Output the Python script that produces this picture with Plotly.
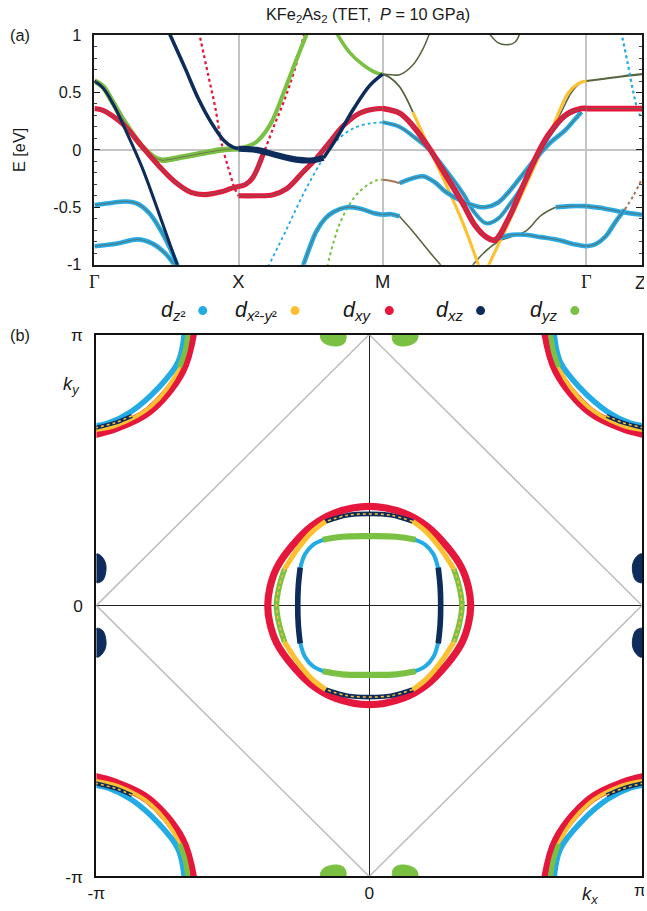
import plotly.graph_objects as go

# The page is shown at about 98 % zoom inside a 647 x 911 window, and the body keeps
# its default 8 px margin; layout positions below are given in on-screen pixels.
SCREEN_W, SCREEN_H = 647, 911
ZOOM = 0.98
BODY_MARGIN = 8
W = round(SCREEN_W / ZOOM) - 2 * BODY_MARGIN
H = round(SCREEN_H / ZOOM) - 2 * BODY_MARGIN - 1

# orbital colours
COLORS = {
    "dz2": "#22abe5",
    "dx2y2": "#fbc130",
    "dxy": "#e5173c",
    "dxz": "#0d2c5c",
    "dyz": "#7ac143",
    "mix": "#56643f",
    "brown": "#a87559",
}
CORE = "rgba(110,100,85,0.8)"   # thin total-band line running through the fat bands

# high-symmetry path
K_TICKS = [0.0, 1.0, 2.0, 3.414, 3.80]
K_LABELS = ['<span style="font-family:Liberation Serif">Γ</span>', "X", "M",
            '<span style="font-family:Liberation Serif">Γ</span>', "Z"]
E_TICKS = [-1, -0.5, 0, 0.5, 1]
E_LABELS = ["-1", "-0.5", "0", "0.5", "1"]

# ---- band energies E(k) [eV] -------------------------------------------
# Γ–X
GX_XZ_STEEP = ([0.0, 0.06, 0.13, 0.21, 0.33, 0.45, 0.58], [0.60, 0.54, 0.40, 0.19, -0.15, -0.56, -1.02])
GX_YZ = ([0.0, 0.06, 0.12, 0.21, 0.33, 0.42, 0.47, 0.60, 0.75, 0.88, 1.0],
         [0.60, 0.55, 0.43, 0.24, 0.03, -0.07, -0.09, -0.065, -0.03, 0.0, 0.01])
GX_XY = ([0.0, 0.06, 0.12, 0.21, 0.33, 0.44, 0.56, 0.67, 0.76, 0.88, 0.95, 1.0],
         [0.36, 0.345, 0.30, 0.21, 0.03, -0.13, -0.28, -0.37, -0.39, -0.365, -0.335, -0.32])
GX_XY_DOT = ([0.725, 0.79, 0.84, 0.88, 0.93, 0.975, 1.0], [1.03, 0.65, 0.36, 0.07, -0.16, -0.34, -0.40])
GX_XZ_TOP = ([0.515, 0.63, 0.72, 0.81, 0.90, 0.96, 1.0], [1.03, 0.71, 0.45, 0.24, 0.08, 0.025, 0.01])
GX_Z2_UP = ([0.0, 0.10, 0.22, 0.30, 0.38, 0.46, 0.53, 0.58], [-0.48, -0.465, -0.45, -0.47, -0.55, -0.70, -0.87, -1.02])
GX_Z2_LOW = ([0.0, 0.16, 0.30, 0.40, 0.49, 0.565], [-0.84, -0.815, -0.78, -0.815, -0.90, -1.02])
# X–M
XM_XZ_FLAT = ([1.0, 1.125, 1.26, 1.40, 1.52, 1.59], [0.01, 0.0, -0.045, -0.085, -0.09, -0.07])
XM_XZ_RISE = ([1.59, 1.68, 1.80, 1.91, 2.0], [-0.07, 0.10, 0.36, 0.56, 0.66])
XM_YZ = ([1.0, 1.06, 1.125, 1.22, 1.32, 1.40, 1.48], [0.01, 0.03, 0.07, 0.22, 0.52, 0.78, 1.03])
XM_XY_UP = ([1.0, 1.05, 1.10, 1.17, 1.25, 1.32, 1.39, 1.46], [-0.32, -0.30, -0.24, -0.04, 0.22, 0.44, 0.70, 1.03])
XM_XY_FLAT = ([1.0, 1.125, 1.24, 1.333, 1.45, 1.54, 1.634, 1.727, 1.84, 1.935, 2.0],
              [-0.40, -0.40, -0.39, -0.34, -0.19, -0.075, 0.07, 0.21, 0.32, 0.355, 0.36])
XM_Z2_A = ([1.205, 1.33, 1.46, 1.60, 1.68, 1.80, 1.91, 2.0], [-1.02, -0.70, -0.36, -0.05, 0.08, 0.19, 0.23, 0.24])
XM_Z2_B = ([1.445, 1.50, 1.54, 1.60, 1.66, 1.75, 1.84, 1.935, 2.0],
           [-1.02, -0.83, -0.71, -0.60, -0.54, -0.50, -0.51, -0.55, -0.565])
XM_YZ_LOW = ([1.615, 1.70, 1.80, 1.89, 1.96, 2.0], [-1.02, -0.65, -0.42, -0.31, -0.265, -0.26])
XM_YZ_TOP = ([1.675, 1.77, 1.866, 1.96, 2.0], [1.03, 0.85, 0.74, 0.67, 0.66])
# M–Γ
MG_MIX_UP = ([2.0, 2.06, 2.118, 2.21, 2.28, 2.33], [0.66, 0.655, 0.655, 0.74, 0.88, 1.03])
MG_MIX_DIP = ([2.73, 2.80, 2.861, 2.92, 2.956], [1.03, 0.935, 0.916, 0.94, 1.03])
MG_X2_TOP = ([2.0, 2.05, 2.118, 2.21], [0.66, 0.63, 0.55, 0.33])
MG_X2_LEFT = ([2.21, 2.326, 2.442, 2.558, 2.67], [0.33, 0.01, -0.31, -0.64, -1.02])
MG_X2_RIGHT = ([2.73, 2.85, 2.96, 3.07, 3.18, 3.29, 3.36, 3.414], [-1.02, -0.70, -0.40, -0.10, 0.20, 0.50, 0.58, 0.60])
MG_XY = ([2.0, 2.118, 2.21, 2.326, 2.442, 2.558, 2.64, 2.72, 2.78, 2.873, 2.965, 3.06, 3.15, 3.266, 3.38, 3.414],
         [0.36, 0.32, 0.21, 0.01, -0.23, -0.47, -0.655, -0.76, -0.785, -0.60, -0.34, -0.075, 0.13, 0.30, 0.36, 0.36])
MG_Z2_MID = ([2.0, 2.118, 2.21, 2.326, 2.442, 2.558, 2.64, 2.72, 2.80, 2.873, 2.988, 3.06, 3.15, 3.266, 3.38, 3.414],
             [0.24, 0.20, 0.12, 0.0, -0.18, -0.38, -0.55, -0.64, -0.60, -0.49, -0.28, -0.09, 0.11, 0.29, 0.355, 0.36])
MG_BROWN = ([2.0, 2.06, 2.118], [-0.26, -0.27, -0.29])
MG_Z2_TOP = ([2.118, 2.20, 2.28, 2.36, 2.442, 2.558, 2.65, 2.71, 2.80, 2.873, 2.988, 3.08, 3.17, 3.266, 3.33, 3.38],
             [-0.29, -0.25, -0.23, -0.28, -0.37, -0.45, -0.49, -0.50, -0.46, -0.37, -0.19, -0.05, 0.07, 0.17, 0.26, 0.33])
MG_MIX_GAMMA = ([3.06, 3.15, 3.24, 3.31, 3.37, 3.414], [-0.075, 0.13, 0.33, 0.50, 0.58, 0.60])
MG_Z2_FLAT = ([2.0, 2.06, 2.118], [-0.565, -0.56, -0.58])
MG_MIX_DOWN = ([2.118, 2.21, 2.326, 2.415], [-0.58, -0.71, -0.89, -1.02])
MG_MIX_LOW = ([2.615, 2.70, 2.80, 2.99, 3.10, 3.20], [-1.02, -0.90, -0.80, -0.71, -0.57, -0.50])
MG_Z2_GAMMA = ([3.20, 3.30, 3.414], [-0.50, -0.49, -0.49])
MG_Z2_LOW = ([2.80, 2.90, 2.99, 3.10, 3.22, 3.32, 3.414], [-0.77, -0.74, -0.74, -0.76, -0.785, -0.82, -0.84])
# Γ–Z
GZ_MIX = ([3.414, 3.54, 3.66, 3.80], [0.60, 0.62, 0.64, 0.66])
GZ_XY = ([3.414, 3.60, 3.80], [0.36, 0.36, 0.36])
GZ_Z2_DOT = ([3.655, 3.70, 3.74, 3.775, 3.80], [1.03, 0.76, 0.50, 0.33, 0.28])
GZ_Z2_A = ([3.414, 3.537, 3.65, 3.80], [-0.49, -0.51, -0.54, -0.565])
GZ_Z2_B = ([3.414, 3.48, 3.55, 3.62, 3.68], [-0.84, -0.82, -0.75, -0.62, -0.52])
GZ_BROWN_DOT = ([3.68, 3.74, 3.80], [-0.52, -0.40, -0.25])

# drawing order and look of each band: (band, orbital, width, dash, core line)
BAND_STYLE = [
    (MG_MIX_UP, "mix", 1.5, "solid", False),
    (MG_MIX_DIP, "mix", 1.5, "solid", False),
    (MG_MIX_DOWN, "mix", 1.5, "solid", False),
    (MG_MIX_LOW, "mix", 1.5, "solid", False),
    (MG_MIX_GAMMA, "mix", 1.5, "solid", False),
    (MG_X2_TOP, "mix", 1.8, "solid", False),
    (GZ_MIX, "mix", 2, "solid", False),
    (MG_BROWN, "brown", 2, "solid", False),
    (GZ_BROWN_DOT, "brown", 2, "dot", False),
    (GX_XY_DOT, "dxy", 2.2, "dot", False),
    (XM_XY_UP, "dxy", 2.2, "dot", False),
    (XM_YZ_LOW, "dyz", 2, "dot", False),
    (GZ_Z2_DOT, "dz2", 2.2, "dot", False),
    (XM_Z2_A, "dz2", 1.8, "dot", False),
    (MG_X2_LEFT, "dx2y2", 3, "solid", False),
    (MG_X2_RIGHT, "dx2y2", 3, "solid", False),
    (GX_Z2_UP, "dz2", 4.5, "solid", True),
    (GX_Z2_LOW, "dz2", 4.5, "solid", True),
    (XM_Z2_B, "dz2", 4.5, "solid", True),
    (MG_Z2_MID, "dz2", 4, "solid", True),
    (MG_Z2_TOP, "dz2", 4.5, "solid", True),
    (MG_Z2_FLAT, "dz2", 4.5, "solid", True),
    (MG_Z2_GAMMA, "dz2", 4.5, "solid", True),
    (MG_Z2_LOW, "dz2", 4.5, "solid", True),
    (GZ_Z2_A, "dz2", 4.5, "solid", True),
    (GZ_Z2_B, "dz2", 4.5, "solid", True),
    (GX_YZ, "dyz", 5.5, "solid", True),
    (XM_YZ, "dyz", 4, "solid", False),
    (XM_YZ_TOP, "dyz", 3.5, "solid", False),
    (GX_XY, "dxy", 5, "solid", True),
    (XM_XY_FLAT, "dxy", 5, "solid", True),
    (MG_XY, "dxy", 5.5, "solid", True),
    (GZ_XY, "dxy", 5.5, "solid", True),
    (GX_XZ_STEEP, "dxz", 3, "solid", False),
    (GX_XZ_TOP, "dxz", 3.5, "solid", False),
    (XM_XZ_FLAT, "dxz", 6, "solid", False),
    (XM_XZ_RISE, "dxz", 3.5, "solid", False),
]
# thick red stub where the steep X–M band leaves X
XM_XY_UP_STUB = slice(0, 4)

# ---- Fermi surface (kx, ky in units of π/a), one quadrant per sheet ----
FS_M_Z2 = ([-0.676, -0.70, -0.774, -0.872, -0.957, -1.02], [1.02, 0.90, 0.802, 0.716, 0.673, 0.66])
FS_M_XY = ([-0.645, -0.688, -0.81, -0.933, -1.02], [1.02, 0.864, 0.716, 0.655, 0.632])
FS_M_X2 = ([-0.66, -0.697, -0.80, -0.925, -1.02], [1.02, 0.875, 0.735, 0.665, 0.645])
FS_M_XZ = ([-0.87, -0.93, -1.02], [0.70, 0.675, 0.652])
FS_M_YZ = ([-0.662, -0.675, -0.695], [1.02, 0.94, 0.88])

FS_G_XY = ([0.0, -0.125, -0.211, -0.284, -0.339, -0.364, -0.372], [0.366, 0.342, 0.293, 0.219, 0.139, 0.066, 0.0])
FS_G_XZ_TOP = ([0.0, -0.08, -0.16], [0.338, 0.333, 0.31])
FS_G_X2 = ([-0.16, -0.211, -0.265, -0.31], [0.31, 0.27, 0.205, 0.135])
FS_G_YZ_SIDE = ([-0.31, -0.33, -0.34], [0.135, 0.07, 0.0])
FS_G_INNER = ([0.0, -0.10, -0.16, -0.205, -0.235, -0.252, -0.26, -0.262],
              [0.256, 0.254, 0.245, 0.225, 0.19, 0.14, 0.07, 0.0])
FS_G_INNER_YZ = ([0.0, -0.10, -0.17], [0.256, 0.254, 0.243])
FS_G_INNER_XZ = ([-0.253, -0.26, -0.262], [0.14, 0.07, 0.0])

FS_BLOB_YZ = ([-0.178, -0.172, -0.15, -0.115, -0.092, -0.085, -0.088, -0.13, -0.178],
              [-1.0, -0.975, -0.962, -0.958, -0.968, -0.985, -1.005, -1.008, -1.0])
FS_BLOB_XZ = ([-1.0, -0.985, -0.968, -0.965, -0.975, -0.99, -1.0, -1.0],
              [0.19, 0.185, 0.16, 0.13, 0.095, 0.085, 0.085, 0.19])

BZ_KX = [0, 1, 0, -1, 0]
BZ_KY = [1, 0, -1, 0, 1]

FS_TICKS = [-1, 0, 1]
FS_LABELS = ["-π", "0", "π"]

LEGEND = [("<i>d</i><sub><i>z</i>²</sub>", "dz2", 201),
          ("<i>d</i><sub><i>x</i>²-<i>y</i>²</sub>", "dx2y2", 293),
          ("<i>d</i><sub><i>xy</i></sub>", "dxy", 387),
          ("<i>d</i><sub><i>xz</i></sub>", "dxz", 478),
          ("<i>d</i><sub><i>yz</i></sub>", "dyz", 572)]

FONT = "Liberation Sans, Arial, sans-serif"
INK = "#1a1a1a"

fig = go.Figure()


def line(x, y, color, width, dash="solid", ax=("x", "y"), shape="spline"):
    fig.add_trace(go.Scatter(x=list(x), y=list(y), mode="lines", xaxis=ax[0], yaxis=ax[1],
                             line=dict(color=color, width=width / ZOOM, dash=dash, shape=shape, smoothing=1.0),
                             hoverinfo="skip", showlegend=False))


# ---- panel (a): bands ---------------------------------------------------
for band, orb, width, dash, core in BAND_STYLE:
    k, e = band
    line(k, e, COLORS[orb], width, dash)
    if band is XM_XY_UP:
        line(k[XM_XY_UP_STUB], e[XM_XY_UP_STUB], COLORS["dxy"], 5)
        line(k[XM_XY_UP_STUB], e[XM_XY_UP_STUB], CORE, 1)
    if core:
        line(k, e, CORE, 1)

# ---- panel (b): Fermi surface -------------------------------------------
FS = ("x2", "y2")


def neg(v):
    return [-a for a in v]


def four_corners(sheet):
    kx, ky = sheet
    return [(kx, ky), (neg(kx), ky), (kx, neg(ky)), (neg(kx), neg(ky))]


def closed(sheet):
    kx, ky = sheet
    n = len(kx)
    x = list(kx) + [kx[i] for i in range(n - 2, -1, -1)]
    y = list(ky) + [-ky[i] for i in range(n - 2, -1, -1)]
    x += [-kx[i] for i in range(1, n)] + [-kx[i] for i in range(n - 2, -1, -1)]
    y += [-ky[i] for i in range(1, n)] + [ky[i] for i in range(n - 2, -1, -1)]
    return x, y


def across_ky_axis(sheet):
    kx, ky = sheet
    x = [-a for a in kx[::-1]] + list(kx[1:])
    y = list(ky[::-1]) + list(ky[1:])
    return [(x, y), (x, neg(y))]


def across_kx_axis(sheet):
    kx, ky = sheet
    x = list(kx) + list(kx[-2::-1])
    y = list(ky) + [-a for a in ky[-2::-1]]
    return [(x, y), (neg(x), y)]


# zone boundary guide
line(BZ_KX, BZ_KY, "#bdbdbd", 1.5, ax=FS, shape="linear")

# pockets around the zone corners
for x, y in four_corners(FS_M_XY):
    line(x, y, COLORS["dxy"], 9, ax=FS)
for x, y in four_corners(FS_M_X2):
    line(x, y, COLORS["dx2y2"], 4, ax=FS)
for x, y in four_corners(FS_M_Z2):
    line(x, y, COLORS["dz2"], 5.5, ax=FS)
for x, y in four_corners(FS_M_XZ):
    line(x, y, COLORS["dxz"], 4, ax=FS)
    line(x, y, COLORS["dx2y2"], 1.5, "dot", ax=FS)
for x, y in four_corners(FS_M_YZ):
    line(x, y, COLORS["dyz"], 5, ax=FS)

# pockets around Γ
gx, gy = closed(FS_G_XY)
line(gx, gy, COLORS["dxy"], 7, ax=FS)
for x, y in across_ky_axis(FS_G_XZ_TOP):
    line(x, y, COLORS["dxz"], 4.5, ax=FS)
    line(x, y, COLORS["dx2y2"], 1.5, "dot", ax=FS)
for x, y in four_corners(FS_G_X2):
    line(x, y, COLORS["dx2y2"], 5, ax=FS)
for x, y in across_kx_axis(FS_G_YZ_SIDE):
    line(x, y, COLORS["dyz"], 5.5, ax=FS)
    line(x, y, COLORS["dx2y2"], 1.5, "dot", ax=FS)
ix, iy = closed(FS_G_INNER)
line(ix, iy, COLORS["dz2"], 4, ax=FS)
for x, y in across_ky_axis(FS_G_INNER_YZ):
    line(x, y, COLORS["dyz"], 6, ax=FS)
for x, y in across_kx_axis(FS_G_INNER_XZ):
    line(x, y, COLORS["dxz"], 5.5, ax=FS)

# small pockets on the zone edges
for x, y in four_corners(FS_BLOB_YZ):
    fig.add_trace(go.Scatter(x=x, y=y, mode="lines", fill="toself", fillcolor=COLORS["dyz"],
                             line=dict(color=COLORS["dyz"], width=1, shape="spline"),
                             xaxis="x2", yaxis="y2", hoverinfo="skip", showlegend=False))
for x, y in four_corners(FS_BLOB_XZ):
    fig.add_trace(go.Scatter(x=x, y=y, mode="lines", fill="toself", fillcolor=COLORS["dxz"],
                             line=dict(color=COLORS["dxz"], width=1, shape="spline"),
                             xaxis="x2", yaxis="y2", hoverinfo="skip", showlegend=False))


# ---- layout (positions given in on-screen pixels) ------------------------
def px_x(p):
    return min(max((p / ZOOM - BODY_MARGIN) / W, 0.0), 1.0)


def px_y(p):
    return min(max(1 - (p / ZOOM - BODY_MARGIN) / H, 0.0), 1.0)


def fs(size):
    return round(size / ZOOM, 1)


annotations = [
    dict(text="KFe<sub>2</sub>As<sub>2</sub> (TET,\u00a0 <i>P</i> = 10 GPa)", x=px_x(366), y=px_y(13),
         font=dict(size=fs(16))),
    dict(text="(a)", x=px_x(19), y=px_y(33), font=dict(size=fs(16))),
    dict(text="(b)", x=px_x(19), y=px_y(333), font=dict(size=fs(16))),
    dict(text="E [eV]", x=px_x(18), y=px_y(148), textangle=-90, font=dict(size=fs(16))),
    dict(text="<i>k</i><sub><i>y</i></sub>", x=px_x(70), y=px_y(384), font=dict(size=fs(18))),
    dict(text="<i>k</i><sub><i>x</i></sub>", x=px_x(587), y=px_y(895), font=dict(size=fs(18))),
    # right-most path / zone labels sit at the figure edge, so they are nudged inward
    dict(text=K_LABELS[-1], xref="x", x=K_TICKS[-1], xshift=-2, y=px_y(281), font=dict(size=fs(18))),
    dict(text=FS_LABELS[-1], xref="x2", x=FS_TICKS[-1], xshift=-2, y=px_y(890), font=dict(size=fs(17))),
]
shapes = []
for text, orb, cx in LEGEND:
    annotations.append(dict(text=text, x=px_x(cx - 16), y=px_y(309), xanchor="right",
                            font=dict(size=fs(21))))
    shapes.append(dict(type="circle", xref="paper", yref="paper", fillcolor=COLORS[orb],
                       line=dict(width=0), x0=px_x(cx - 4.5), x1=px_x(cx + 4.5),
                       y0=px_y(309 + 4.5), y1=px_y(309 - 4.5)))
for a in annotations:
    a.setdefault("xref", "paper")
    a.setdefault("yref", "paper")
    a.setdefault("xanchor", "center")
    a.setdefault("yanchor", "middle")
    a.setdefault("showarrow", False)
    a["font"].update(family=FONT, color=INK)

fig.update_layout(
    width=W, height=H, autosize=False, margin=dict(l=0, r=0, t=0, b=0),
    paper_bgcolor="white", plot_bgcolor="white",
    font=dict(family=FONT, size=fs(16), color=INK),
    showlegend=False, annotations=annotations, shapes=shapes,
    xaxis=dict(domain=[px_x(93), px_x(640)], range=[0, 3.80], tickvals=K_TICKS[:-1], ticktext=K_LABELS[:-1],
               showgrid=True, gridcolor="#c4c4c4", gridwidth=1.5, zeroline=False,
               showline=True, mirror=True, linecolor=INK, linewidth=1.5, ticks="",
               tickfont=dict(size=fs(18)), ticklabelstandoff=0, anchor="y"),
    yaxis=dict(domain=[px_y(263), px_y(33)], range=[-1, 1], tickvals=E_TICKS, ticktext=E_LABELS,
               showgrid=False, zeroline=True, zerolinecolor="#c4c4c4", zerolinewidth=1.5,
               showline=True, mirror="ticks", linecolor=INK, linewidth=1.5,
               ticks="inside", ticklen=6, tickcolor=INK, tickwidth=1,
               minor=dict(dtick=0.1, ticks="inside", ticklen=3, tickcolor="#444"),
               tickfont=dict(size=fs(16)), ticklabelstandoff=8, anchor="x"),
    xaxis2=dict(domain=[px_x(95), px_x(640)], range=[-1, 1], tickvals=FS_TICKS[:-1], ticktext=FS_LABELS[:-1],
                showgrid=False, zeroline=True, zerolinecolor="#222", zerolinewidth=1,
                showline=True, mirror=True, linecolor="#111", linewidth=2, ticks="",
                tickfont=dict(size=fs(17)), ticklabelstandoff=0, anchor="y2"),
    yaxis2=dict(domain=[px_y(876), px_y(333)], range=[-1, 1], tickvals=FS_TICKS, ticktext=FS_LABELS,
                showgrid=False, zeroline=True, zerolinecolor="#222", zerolinewidth=1,
                showline=True, mirror=True, linecolor="#111", linewidth=2, ticks="",
                tickfont=dict(size=fs(17)), ticklabelstandoff=8, anchor="x2"),
)

fig.write_html("out.html", config={"responsive": False})
